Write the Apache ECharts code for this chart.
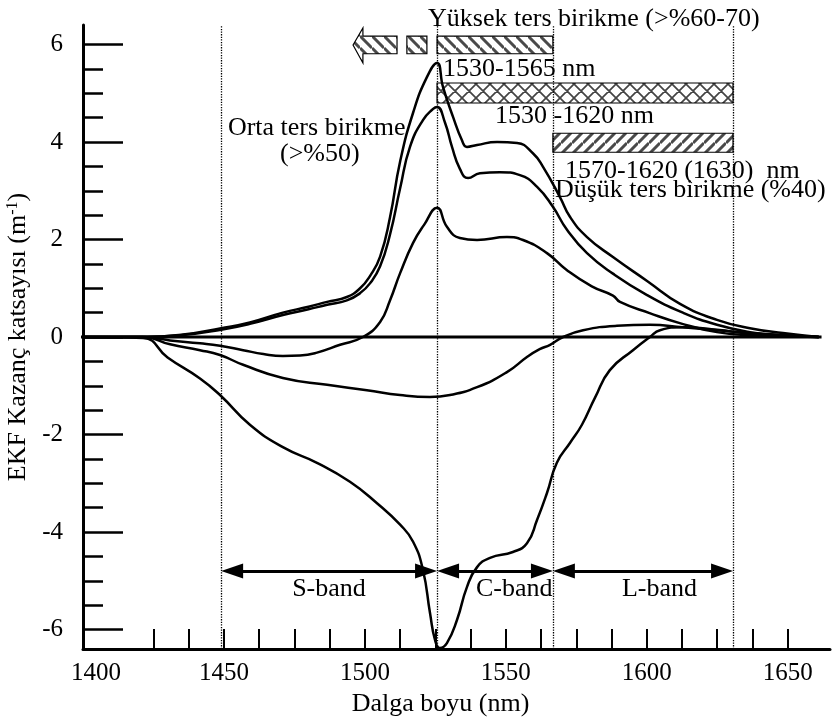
<!DOCTYPE html>
<html>
<head>
<meta charset="utf-8">
<title>EKF kazanç katsayısı</title>
<script src="https://cdn.jsdelivr.net/npm/echarts@6.0.0/dist/echarts.min.js"></script>
<style>html,body{margin:0;padding:0;background:#fff;}</style>
</head>
<body>
<div id="main" style="width:833px;height:724px;"></div>
<script>
// dalga boyu (nm), kazanç katsayısı (1/m)
var sifirCizgisi = [[1392.9, 0], [1662, 0]];

var egriA = [[1400,0],[1421.3,0],[1435.5,0.05],[1449,0.18],[1459.2,0.3],[1470.9,0.5],[1480,0.62],[1486.6,0.72],
  [1493.6,0.82],[1498.3,1.0],[1501.8,1.25],[1505.4,1.65],[1508.9,2.45],[1512.5,3.6],[1517.1,4.6],
  [1522,5.33],[1525.6,5.62],[1527.7,5.13],[1531.3,4.51],[1534.4,4.04],[1536.2,3.9],[1539.8,3.94],
  [1546.9,4.0],[1554,3.98],[1559.6,3.77],[1563.2,3.49],[1569.2,2.87],[1572.8,2.46],[1578.8,2.05],[1588,1.64],
  [1600.1,1.15],[1611.8,0.68],[1624.9,0.35],[1636.6,0.18],[1648.3,0.08],[1661,0]];

var egriB = [[1400,0],[1421.3,0],[1435.5,0.04],[1449,0.15],[1459.2,0.27],[1470.9,0.45],[1480,0.57],[1486.6,0.66],
  [1493.6,0.75],[1498.3,0.9],[1501.8,1.1],[1505.4,1.45],[1508.9,2.1],[1512.5,3.05],[1516,3.9],[1520.6,4.45],
  [1524.2,4.68],[1525.6,4.72],[1528.4,4.4],[1530.9,3.9],[1533.7,3.45],[1536.6,3.26],[1540.8,3.36],
  [1547.9,3.38],[1555,3.32],[1561.1,3.08],[1566.7,2.67],[1571.7,2.2],[1578.8,1.72],[1588,1.3],[1600.1,0.86],
  [1612.8,0.5],[1624.9,0.25],[1636.6,0.1],[1648.3,0.03],[1661,0]];

var egriC = [[1400,0],[1421.3,0],[1430.9,-0.07],[1441.5,-0.13],[1448.6,-0.18],[1456.8,-0.27],[1464,-0.35],
  [1470.9,-0.39],[1477,-0.38],[1483,-0.32],[1491.2,-0.16],[1499.3,0],[1505.4,0.31],[1508.9,0.75],[1512.5,1.31],
  [1517.1,1.93],[1521,2.3],[1525.6,2.65],[1529.1,2.26],[1533.7,2.03],[1539.8,1.99],[1550.4,2.05],[1556.1,1.99],
  [1564.6,1.72],[1571.7,1.37],[1580.5,1.04],[1588,0.85],[1590.5,0.72],[1601,0.49],[1612,0.28],[1624.9,0.1],
  [1636.6,0.04],[1661,0]];

var egriD = [[1400,0],[1421.3,0],[1430.9,-0.15],[1441.5,-0.27],[1448.6,-0.37],[1456.8,-0.57],[1470.9,-0.84],
  [1486.6,-0.98],[1500.7,-1.09],[1512.5,-1.19],[1523.1,-1.23],[1530.2,-1.19],[1539.8,-1.03],[1550.4,-0.72],
  [1557.5,-0.41],[1562,-0.25],[1565.7,-0.16],[1570.3,0],[1577.4,0.14],[1589.4,0.23],[1601.1,0.25],[1612.8,0.2],
  [1624.9,0.14],[1636.6,0.08],[1661,0]];

var egriE = [[1400,0],[1421.3,-0.02],[1430,-0.42],[1441.5,-0.85],[1448.6,-1.19],[1459.2,-1.8],
  [1470.9,-2.26],[1483,-2.58],[1494.7,-2.97],[1504.3,-3.41],[1512.5,-3.85],[1517.1,-4.2],[1520.6,-4.78],
  [1523.1,-5.66],[1524.9,-6.22],[1526.6,-6.38],[1529.1,-6.28],[1532.7,-5.8],[1536.2,-5.13],[1539.8,-4.72],
  [1544.4,-4.53],[1552.5,-4.41],[1557.5,-4.23],[1561.1,-3.75],[1564.6,-3.2],[1568.1,-2.58],[1572.8,-2.17],
  [1577,-1.8],[1581.6,-1.25],[1586.9,-0.68],[1595.1,-0.27],[1601.1,0],[1604.7,0.14],[1612.8,0.2],
  [1624.9,0.15],[1636.6,0.07],[1661,0]];

// eksen işaretleri
var xEtiketleri = [1400, 1450, 1500, 1550, 1600, 1650];
var xCentikleri = [1425, 1437.5, 1450, 1462.5, 1475, 1487.5, 1500, 1512.5, 1525, 1537.5, 1550, 1562.5,
  1575, 1587.5, 1600, 1612.5, 1625, 1637.5, 1650];
var yEtiketleri = [-6, -4, -2, 0, 2, 4, 6];
var yAraCentik = [-6, -5.5, -5, -4.5, -4, -3.5, -3, -2.5, -2, -1.5, -1, -0.5, 0, 0.5, 1, 1.5, 2, 2.5,
  3, 3.5, 4, 4.5, 5, 5.5, 6];

// bant sınırları (nm) ve bant adları
var bantSinirlari = [1449, 1525.6, 1566.7, 1630.6];
var bantAdlari = ['S-band', 'C-band', 'L-band'];
var bantOkY = -4.8;

// taralı dikdörtgenler: [baş nm, son nm, üst, alt]
var kusaklar = [[1525.6, 1566.7, 6.17, 5.81], [1514.9, 1522.0, 6.17, 5.81],
  [1525.6, 1630.6, 5.21, 4.80], [1566.7, 1630.6, 4.18, 3.79]];
var kusakDesen = ['ters', 'ters', 'capraz', 'duz'];
// sola ok: uç, gövde başı, gövde sonu (nm); gövde üst/alt, baş üst/alt
var solOk = [1495.8, 1499.3, 1511.4, 6.17, 5.81, 6.34, 5.62];

// yazılar
var notMetin = ['Yüksek ters birikme (>%60-70)', '1530-1565 nm', '1530 -1620 nm', '1570-1620 (1630)  nm',
  'Düşük ters birikme (%40)', 'Orta ters birikme', '(>%50)', 'S-band', 'C-band', 'L-band'];
var notX = [1522.4, 1527.7, 1546.2, 1571.0, 1567.4, 1451.4, 1469.9, 1474.2, 1539.4, 1591.2];
var notY = [6.52, 5.50, 4.53, 3.41, 3.02, 4.29, 3.75, -5.17, -5.17, -5.17];

var yazi = '"Liberation Serif", "Times New Roman", serif';

function desen(tur) {
  var s = tur === 'capraz' ? 14 : (tur === 'ters' ? 12 : 11);
  var c = document.createElement('canvas');
  c.width = s; c.height = s;
  var g = c.getContext('2d');
  g.fillStyle = '#fff';
  g.fillRect(0, 0, s, s);
  g.strokeStyle = tur === 'capraz' ? '#444' : '#4a4a4a';
  g.lineWidth = tur === 'capraz' ? 1.7 : 3;
  g.beginPath();
  var k;
  if (tur !== 'duz') { // "\"
    for (k = -1; k <= 1; k++) { g.moveTo(0, k * s); g.lineTo(s, s + k * s); }
  }
  if (tur !== 'ters') { // "/"
    for (k = 0; k <= 2; k++) { g.moveTo(0, k * s); g.lineTo(s, k * s - s); }
  }
  g.stroke();
  return c;
}
var desenler = { ters: desen('ters'), duz: desen('duz'), capraz: desen('capraz') };

function egriSerisi(veri) {
  return {
    type: 'line', data: veri, smooth: 0.5, symbol: 'none', silent: true,
    lineStyle: { color: '#000', width: 2.5 }
  };
}

var ucPay = 3.9; // ok ucunun yarısı (nm)
var bantOklari = [];
for (var i = 0; i < bantAdlari.length; i++) {
  bantOklari.push([{ coord: [bantSinirlari[i] + ucPay, bantOkY] },
                   { coord: [bantSinirlari[i + 1] - ucPay, bantOkY] }]);
}

var myChart = echarts.init(document.getElementById('main'));

var option = {
  backgroundColor: '#fff',
  animation: false,
  grid: { left: 83, right: 3, top: 25, bottom: 75, outerBoundsMode: 'none' },
  xAxis: {
    type: 'value', min: 1400, max: 1665,
    name: 'Dalga boyu (nm)', nameLocation: 'middle', nameGap: 42,
    nameTextStyle: { fontFamily: yazi, fontSize: 26, color: '#000', padding: [0, 32, 0, 0] },
    axisLine: { onZero: false, lineStyle: { color: '#000', width: 3 } },
    axisTick: { inside: true, length: 20, customValues: xCentikleri, lineStyle: { color: '#000', width: 2 } },
    axisLabel: {
      customValues: xEtiketleri, margin: 12, fontFamily: yazi, fontSize: 25, color: '#000',
      // ilk etiket eksenin biraz sağında duruyor
      formatter: function (v) { return v === 1400 ? '{ilk|' + v + '}' : String(v); },
      rich: { ilk: { fontFamily: yazi, fontSize: 25, color: '#000', padding: [0, 0, 0, 26] } }
    },
    splitLine: { show: false }
  },
  yAxis: [{
    type: 'value', min: -6.4, max: 6.4,
    name: 'EKF Kazanç katsayısı (m{ust|-1})', nameLocation: 'middle', nameGap: 43, nameRotate: 90,
    nameTextStyle: { fontFamily: yazi, fontSize: 26, color: '#000',
      rich: { ust: { fontFamily: yazi, fontSize: 16, color: '#000', verticalAlign: 'top' } } },
    axisLine: { onZero: false, lineStyle: { color: '#000', width: 3 } },
    axisTick: { inside: true, length: 40, customValues: yEtiketleri, lineStyle: { color: '#000', width: 2.5 } },
    axisLabel: { customValues: yEtiketleri, margin: 20, fontFamily: yazi, fontSize: 25, color: '#000' },
    splitLine: { show: false }
  }, {
    type: 'value', min: -6.4, max: 6.4, position: 'left',
    axisLine: { show: false, onZero: false },
    axisTick: { inside: true, length: 20, customValues: yAraCentik, lineStyle: { color: '#000', width: 2.5 } },
    axisLabel: { show: false },
    splitLine: { show: false }
  }],
  series: [
    {
      type: 'line', data: sifirCizgisi, symbol: 'none', clip: false, silent: true,
      lineStyle: { color: '#000', width: 3 },
      markLine: {
        silent: true, symbol: ['none', 'none'], label: { show: false },
        lineStyle: { color: '#000', type: 'dotted', width: 1.3 },
        data: bantSinirlari.map(function (v) { return { xAxis: v }; })
      }
    },
    egriSerisi(egriA),
    egriSerisi(egriB),
    egriSerisi(egriC),
    egriSerisi(egriD),
    Object.assign(egriSerisi(egriE), {
      markLine: {
        silent: true, symbol: ['triangle', 'triangle'], symbolSize: [15, 22],
        label: { show: false },
        lineStyle: { color: '#000', type: 'solid', width: 3 },
        itemStyle: { color: '#000' },
        data: bantOklari
      }
    }),
    {
      type: 'custom', silent: true,
      data: kusaklar,
      encode: { x: [0, 1], y: [2, 3] },
      renderItem: function (params, api) {
        var p0 = api.coord([api.value(0), api.value(2)]);
        var p1 = api.coord([api.value(1), api.value(3)]);
        return {
          type: 'rect',
          shape: { x: p0[0], y: p0[1], width: p1[0] - p0[0], height: p1[1] - p0[1] },
          style: { fill: { image: desenler[kusakDesen[params.dataIndex]], repeat: 'repeat' },
                   stroke: '#000', lineWidth: 1.2 }
        };
      }
    },
    {
      type: 'custom', silent: true,
      data: [solOk],
      renderItem: function (params, api) {
        var uc = api.value(0), bas = api.value(1), son = api.value(2);
        var ust = api.value(3), alt = api.value(4), bUst = api.value(5), bAlt = api.value(6);
        var orta = (ust + alt) / 2;
        var nokta = [[uc, orta], [bas, bUst], [bas, ust], [son, ust], [son, alt], [bas, alt], [bas, bAlt]]
          .map(function (d) { return api.coord(d); });
        return {
          type: 'polygon',
          shape: { points: nokta },
          style: { fill: { image: desenler.ters, repeat: 'repeat' }, stroke: '#000', lineWidth: 1.2 }
        };
      }
    },
    {
      type: 'custom', silent: true,
      data: notX.map(function (x, j) { return [x, notY[j]]; }),
      renderItem: function (params, api) {
        var p = api.coord([api.value(0), api.value(1)]);
        return {
          type: 'text', x: p[0], y: p[1],
          style: { text: notMetin[params.dataIndex], fontFamily: yazi, fontSize: 26,
                   fill: '#000', align: 'left', verticalAlign: 'middle' }
        };
      }
    }
  ]
};

myChart.setOption(option);
</script>
</body>
</html>
